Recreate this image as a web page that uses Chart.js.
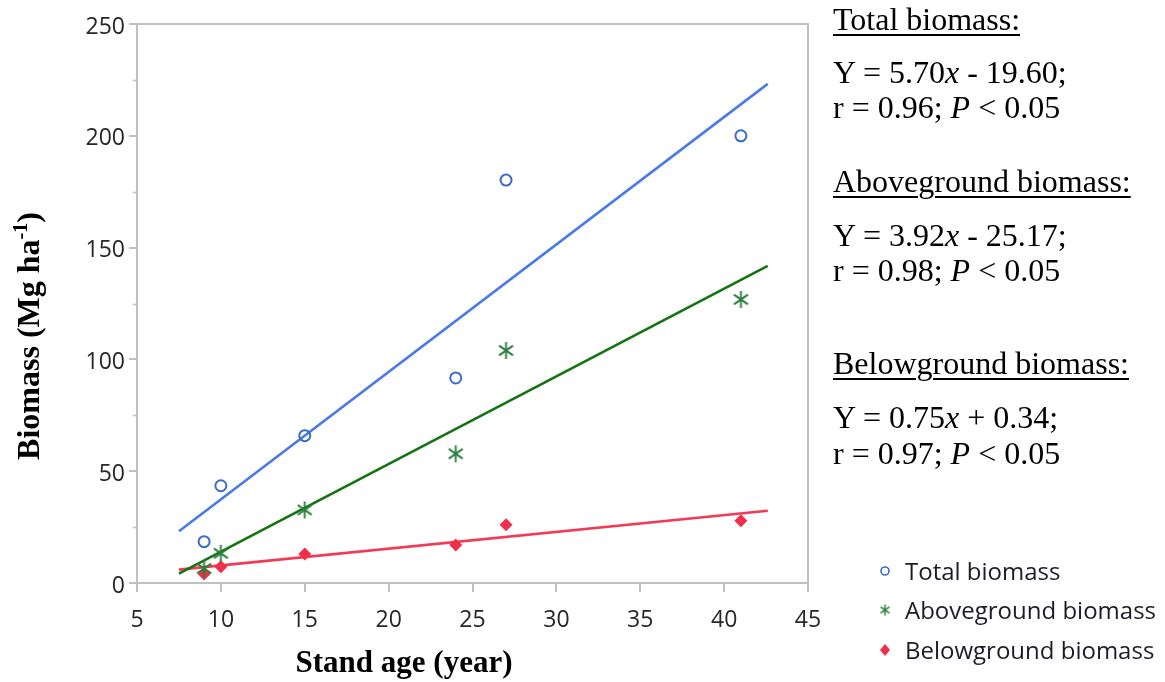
<!DOCTYPE html>
<html>
<head>
<meta charset="utf-8">
<script src="https://cdn.jsdelivr.net/npm/chart.js@4.4.1/dist/chart.umd.min.js"></script>
<style>
  body { margin: 0; background: #fff; }
  #wrap { position: relative; width: 1165px; height: 682px; }
  #notes div {
    position: absolute; left: 833px;
    font: 32px/32px "Liberation Serif", "Times New Roman", serif;
    color: #000; white-space: nowrap;
  }
  #notes .hd { text-decoration: underline; text-decoration-thickness: 2px; text-underline-offset: 4px; }
</style>
</head>
<body>
<div id="wrap">
  <canvas id="chart" width="1165" height="682"></canvas>
  <div id="notes"></div>
</div>
<script>
// stand age (year) of the sampled plots
var ages = [9, 10, 15, 24, 27, 41];
// biomass, Mg/ha
var totalBiomass = [18.5, 43.5, 65.9, 91.7, 180.2, 200.0];
var abovegroundBiomass = [6.5, 13.3, 32.7, 57.8, 104.0, 126.8];
var belowgroundBiomass = [4.0, 7.3, 13.0, 17.0, 26.0, 27.8];

var seriesNames = ['Total biomass', 'Aboveground biomass', 'Belowground biomass'];
// regression lines printed on the figure
var slopes = [5.70, 3.92, 0.75];
var intercepts = [-19.60, -25.17, 0.34];
var rValues = [0.96, 0.98, 0.97];
var fitRange = [7.5, 42.6];

var xTicks = [5, 45, 5];     // min, max, step
var yTicks = [0, 250, 50];
var yMinorStep = 25;

var lineColors = ['#4a7ae6', '#137313', '#f23a55'];
var markColors = ['#3a6cc6', '#2a7d3a', '#f0304a'];

function makeStar(size, color, lw) {
  var c = document.createElement('canvas');
  c.width = c.height = size;
  var ctx = c.getContext('2d');
  ctx.strokeStyle = color;
  ctx.lineWidth = lw;
  var r = size / 2 - 1, m = size / 2;
  [90, 35, 145].forEach(function (a) {
    var t = a * Math.PI / 180;
    ctx.beginPath();
    ctx.moveTo(m - r * Math.cos(t), m - r * Math.sin(t));
    ctx.lineTo(m + r * Math.cos(t), m + r * Math.sin(t));
    ctx.stroke();
  });
  return c;
}
var starBig = makeStar(19, markColors[1], 1.9);
var starSmall = makeStar(13, markColors[1], 1.5);

function points(ys) {
  return ages.map(function (a, i) { return { x: a, y: ys[i] }; });
}
function fitLine(k) {
  return fitRange.map(function (x) { return { x: x, y: slopes[k] * x + intercepts[k] }; });
}

// equations block on the right
var tops = [3, 56, 91, 165, 219, 254, 347, 401, 437];
var notes = document.getElementById('notes');
var html = '';
seriesNames.forEach(function (name, k) {
  var b = intercepts[k];
  var eq = 'Y = ' + slopes[k].toFixed(2) + '<i>x</i> ' + (b < 0 ? '- ' : '+ ') + Math.abs(b).toFixed(2) + ';';
  var rr = 'r = ' + rValues[k].toFixed(2) + '; <i>P</i> &lt; 0.05';
  html += '<div class="hd" style="top:' + tops[k * 3] + 'px">' + name + ':</div>';
  html += '<div style="top:' + tops[k * 3 + 1] + 'px">' + eq + '</div>';
  html += '<div style="top:' + tops[k * 3 + 2] + 'px">' + rr + '</div>';
});
notes.innerHTML = html;

var tickFont = { family: '"Open Sans", "Noto Sans", sans-serif', size: 23 };
var axisGray = '#c0c0c0';

var extras = {
  id: 'extras',
  beforeDatasetsDraw: function (chart) {
    var ctx = chart.ctx, a = chart.chartArea;
    ctx.save();
    ctx.strokeStyle = axisGray;
    ctx.lineWidth = 2;
    ctx.beginPath();
    ctx.moveTo(a.left - 8, a.top);
    ctx.lineTo(a.right, a.top);
    ctx.lineTo(a.right, a.bottom);
    ctx.stroke();
    // minor ticks on y
    var y = chart.scales.y;
    ctx.lineWidth = 1.5;
    for (var v = yTicks[0] + yMinorStep; v < yTicks[1]; v += yTicks[2]) {
      var py = Math.round(y.getPixelForValue(v)) + 0.5;
      ctx.beginPath();
      ctx.moveTo(a.left - 4, py);
      ctx.lineTo(a.left, py);
      ctx.stroke();
    }
    ctx.restore();
  },
  afterDraw: function (chart) {
    var ctx = chart.ctx;
    ctx.save();
    ctx.fillStyle = '#000';
    // x title
    ctx.font = 'bold 31px "Liberation Serif", serif';
    ctx.textAlign = 'center';
    ctx.textBaseline = 'alphabetic';
    ctx.fillText('Stand age (year)', 404, 672);
    // y title with superscript
    var main = 'Biomass (Mg ha', sup = '-1', tail = ')';
    var fMain = 'bold 32px "Liberation Serif", serif';
    var fSup = 'bold 20px "Liberation Serif", serif';
    ctx.font = fMain;
    var w1 = ctx.measureText(main).width, w3 = ctx.measureText(tail).width;
    ctx.font = fSup;
    var w2 = ctx.measureText(sup).width;
    var total = w1 + w2 + w3;
    ctx.translate(39, 336 + total / 2);
    ctx.rotate(-Math.PI / 2);
    ctx.textAlign = 'left';
    ctx.font = fMain;
    ctx.fillText(main, 0, 0);
    ctx.font = fSup;
    ctx.fillText(sup, w1, -12);
    ctx.font = fMain;
    ctx.fillText(tail, w1 + w2, 0);
    ctx.restore();

    // legend
    ctx.save();
    var rows = [573, 612, 652];
    var mx = 885;
    ctx.font = '24px "Open Sans", "Noto Sans", sans-serif';
    ctx.textBaseline = 'middle';
    ctx.textAlign = 'left';
    seriesNames.forEach(function (name, k) {
      var cy = rows[k];
      if (k === 0) {
        ctx.strokeStyle = markColors[0];
        ctx.lineWidth = 1.6;
        ctx.beginPath();
        ctx.arc(mx, cy - 2, 4, 0, Math.PI * 2);
        ctx.stroke();
      } else if (k === 1) {
        ctx.drawImage(starSmall, mx - 6.5, cy - 8.5);
      } else {
        ctx.fillStyle = markColors[2];
        ctx.beginPath();
        ctx.moveTo(mx, cy - 8);
        ctx.lineTo(mx + 5, cy - 2);
        ctx.lineTo(mx, cy + 4);
        ctx.lineTo(mx - 5, cy - 2);
        ctx.closePath();
        ctx.fill();
      }
      ctx.fillStyle = '#1c1c28';
      ctx.fillText(name, 905, cy);
    });
    ctx.restore();
  }
};

new Chart(document.getElementById('chart'), {
  type: 'scatter',
  data: {
    datasets: [
      { label: seriesNames[0], data: points(totalBiomass), order: 1,
        pointStyle: 'circle', pointRadius: 5.5, borderWidth: 2,
        borderColor: markColors[0], backgroundColor: 'rgba(0,0,0,0)' },
      { label: seriesNames[1], data: points(abovegroundBiomass), order: 1,
        pointStyle: starBig, pointRadius: 9 },
      { label: seriesNames[2], data: points(belowgroundBiomass), order: 1,
        pointStyle: 'rectRot', pointRadius: 6.5, borderWidth: 0,
        borderColor: markColors[2], backgroundColor: markColors[2] },
      { type: 'line', data: fitLine(0), order: 2, borderColor: lineColors[0], borderWidth: 2.6, pointRadius: 0 },
      { type: 'line', data: fitLine(1), order: 2, borderColor: lineColors[1], borderWidth: 2.6, pointRadius: 0 },
      { type: 'line', data: fitLine(2), order: 2, borderColor: lineColors[2], borderWidth: 2.6, pointRadius: 0 }
    ]
  },
  options: {
    responsive: false,
    animation: false,
    devicePixelRatio: 1,
    layout: { padding: { top: 24, right: 357, left: 0, bottom: 0 } },
    plugins: { legend: { display: false }, tooltip: { enabled: false } },
    scales: {
      x: {
        type: 'linear', min: xTicks[0], max: xTicks[1],
        ticks: { stepSize: xTicks[2], font: tickFont, color: '#262626', padding: 15 },
        grid: { drawOnChartArea: false, tickLength: 9, color: axisGray, lineWidth: 2 },
        border: { color: axisGray, width: 2 },
        afterFit: function (s) { s.height = 99; }
      },
      y: {
        min: yTicks[0], max: yTicks[1],
        ticks: { stepSize: yTicks[2], font: tickFont, color: '#262626', padding: 4, labelOffset: 3 },
        grid: { drawOnChartArea: false, tickLength: 8, color: axisGray, lineWidth: 2 },
        border: { color: axisGray, width: 2 },
        afterFit: function (s) { s.width = 137; }
      }
    }
  },
  plugins: [extras]
});
</script>
</body>
</html>
